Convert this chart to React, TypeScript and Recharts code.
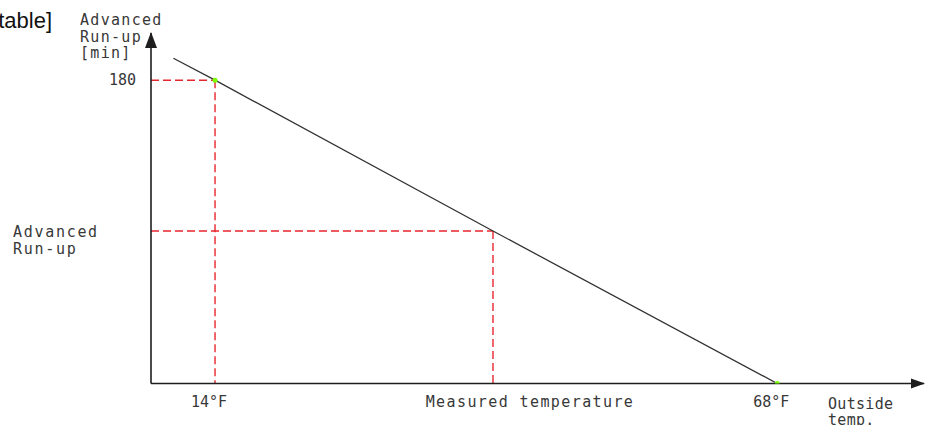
import {
  ComposedChart,
  Line,
  Scatter,
  XAxis,
  YAxis,
  ReferenceLine,
  ReferenceDot,
  Label,
} from "recharts";

// outside temperature (°F) vs advanced run-up (min)
const LINE_TEMPS = [10, 14, 40.7, 68];
const LINE_RUNUP = [193, 180, 90.5, 0];

const MARK_TEMPS = [14, 68];
const MARK_RUNUP = [180, 0];

const MEASURED_TEMP = 40.7;
const MEASURED_RUNUP = 90.5;

const X_DOMAIN = [7.85, 82.1];
const Y_DOMAIN = [0, 208];

const X_TICKS = [14, 40.7, 68];
const X_TICK_LABELS = ["14°F", "Measured temperature", "68°F"];
const Y_TICKS = [90.5, 180];
const Y_TICK_LABELS = [["Advanced", "Run-up"], ["180"]];

const Y_TITLE = ["Advanced", "Run-up", "[min]"];
const X_TITLE = ["Outside", "temp."];

const lineData = LINE_TEMPS.map((t, i) => ({ t, v: LINE_RUNUP[i] }));
const markData = MARK_TEMPS.map((t, i) => ({ t, v: MARK_RUNUP[i] }));

const FONT = "'DejaVu Sans Mono', monospace";
const TEXT = "#383838";
const RED = "#e8262d";
const AXIS = "#1e1e1e";

const textStyle = { fontFamily: FONT, fontSize: 15, fill: TEXT };

function XTick(props: any) {
  const { x, y, index } = props;
  const shift = index === 1 ? 37 : -6;
  const spacing = index === 1 ? 1.4 : 0;
  return (
    <text
      x={x + shift}
      y={y + 15}
      textAnchor="middle"
      style={{ ...textStyle, letterSpacing: spacing }}
    >
      {X_TICK_LABELS[index]}
    </text>
  );
}

function YTick(props: any) {
  const { y, index } = props;
  const lines = Y_TICK_LABELS[index];
  if (lines.length === 1) {
    return (
      <text x={136} y={y + 5} textAnchor="end" style={textStyle}>
        {lines[0]}
      </text>
    );
  }
  return (
    <text x={13} y={y + 6.5} style={{ ...textStyle, letterSpacing: 1.7 }}>
      {lines.map((s: string, i: number) => (
        <tspan key={i} x={13} dy={i === 0 ? 0 : 16.5}>
          {s}
        </tspan>
      ))}
    </text>
  );
}

const upArrow = (p: any) => (
  <polygon
    points={`${p.cx},${p.cy - 1} ${p.cx - 6},${p.cy + 15} ${p.cx + 6},${p.cy + 15}`}
    fill={AXIS}
  />
);

const rightArrow = (p: any) => (
  <polygon
    points={`${p.cx + 1},${p.cy} ${p.cx - 13},${p.cy - 5} ${p.cx - 13},${p.cy + 5}`}
    fill={AXIS}
  />
);

export default function App() {
  return (
    <div style={{ position: "absolute", left: 0, top: 0, width: 929, height: 425, background: "#fff" }}>
      <div
        style={{
          position: "absolute",
          right: 929 - 52,
          top: 8,
          fontFamily: "'Liberation Sans', Arial, sans-serif",
          fontSize: 22,
          lineHeight: "26px",
          color: "#111",
          whiteSpace: "nowrap",
        }}
      >
        table]
      </div>
      <ComposedChart
        width={929}
        height={425}
        margin={{ top: 33, right: 5, bottom: 0, left: 0 }}
      >
        <XAxis
          dataKey="t"
          type="number"
          domain={X_DOMAIN}
          ticks={X_TICKS}
          tick={<XTick />}
          tickLine={false}
          axisLine={{ stroke: AXIS, strokeWidth: 1.6 }}
          height={41.5}
          interval={0}
          allowDataOverflow
        >
          <Label
            content={() => (
              <text x={828} y={409} style={{ ...textStyle, letterSpacing: 0.3 }}>
                {X_TITLE.map((s, i) => (
                  <tspan key={i} x={828} dy={i === 0 ? 0 : 16}>
                    {s}
                  </tspan>
                ))}
              </text>
            )}
          />
        </XAxis>
        <YAxis
          dataKey="v"
          type="number"
          domain={Y_DOMAIN}
          ticks={Y_TICKS}
          tick={<YTick />}
          tickLine={false}
          axisLine={{ stroke: AXIS, strokeWidth: 1.6 }}
          width={151}
          interval={0}
          allowDataOverflow
        >
          <Label
            content={() => (
              <text x={80} y={25} style={{ ...textStyle, letterSpacing: 1.3 }}>
                {Y_TITLE.map((s, i) => (
                  <tspan key={i} x={80} dy={i === 0 ? 0 : 16.5}>
                    {s}
                  </tspan>
                ))}
              </text>
            )}
          />
        </YAxis>

        <ReferenceLine
          segment={[
            { x: X_DOMAIN[0], y: MARK_RUNUP[0] },
            { x: MARK_TEMPS[0], y: MARK_RUNUP[0] },
          ]}
          stroke={RED}
          strokeWidth={1.4}
          strokeDasharray="8 4"
        />
        <ReferenceLine
          segment={[
            { x: MARK_TEMPS[0], y: MARK_RUNUP[0] },
            { x: MARK_TEMPS[0], y: 0 },
          ]}
          stroke={RED}
          strokeWidth={1.4}
          strokeDasharray="8 4"
        />
        <ReferenceLine
          segment={[
            { x: X_DOMAIN[0], y: MEASURED_RUNUP },
            { x: MEASURED_TEMP, y: MEASURED_RUNUP },
          ]}
          stroke={RED}
          strokeWidth={1.4}
          strokeDasharray="8 4"
        />
        <ReferenceLine
          segment={[
            { x: MEASURED_TEMP, y: MEASURED_RUNUP },
            { x: MEASURED_TEMP, y: 0 },
          ]}
          stroke={RED}
          strokeWidth={1.4}
          strokeDasharray="8 4"
        />

        <Line
          data={lineData}
          dataKey="v"
          type="linear"
          stroke="#333"
          strokeWidth={1.3}
          dot={false}
          activeDot={false}
          isAnimationActive={false}
        />
        <Scatter
          data={markData}
          dataKey="v"
          fill="#7cfc00"
          shape={(p: any) => <circle cx={p.cx} cy={p.cy} r={2.5} fill="#7cfc00" />}
          isAnimationActive={false}
        />

        <ReferenceDot x={X_DOMAIN[0]} y={Y_DOMAIN[1]} ifOverflow="visible" shape={upArrow} />
        <ReferenceDot x={X_DOMAIN[1]} y={0} ifOverflow="visible" shape={rightArrow} />
      </ComposedChart>
    </div>
  );
}
